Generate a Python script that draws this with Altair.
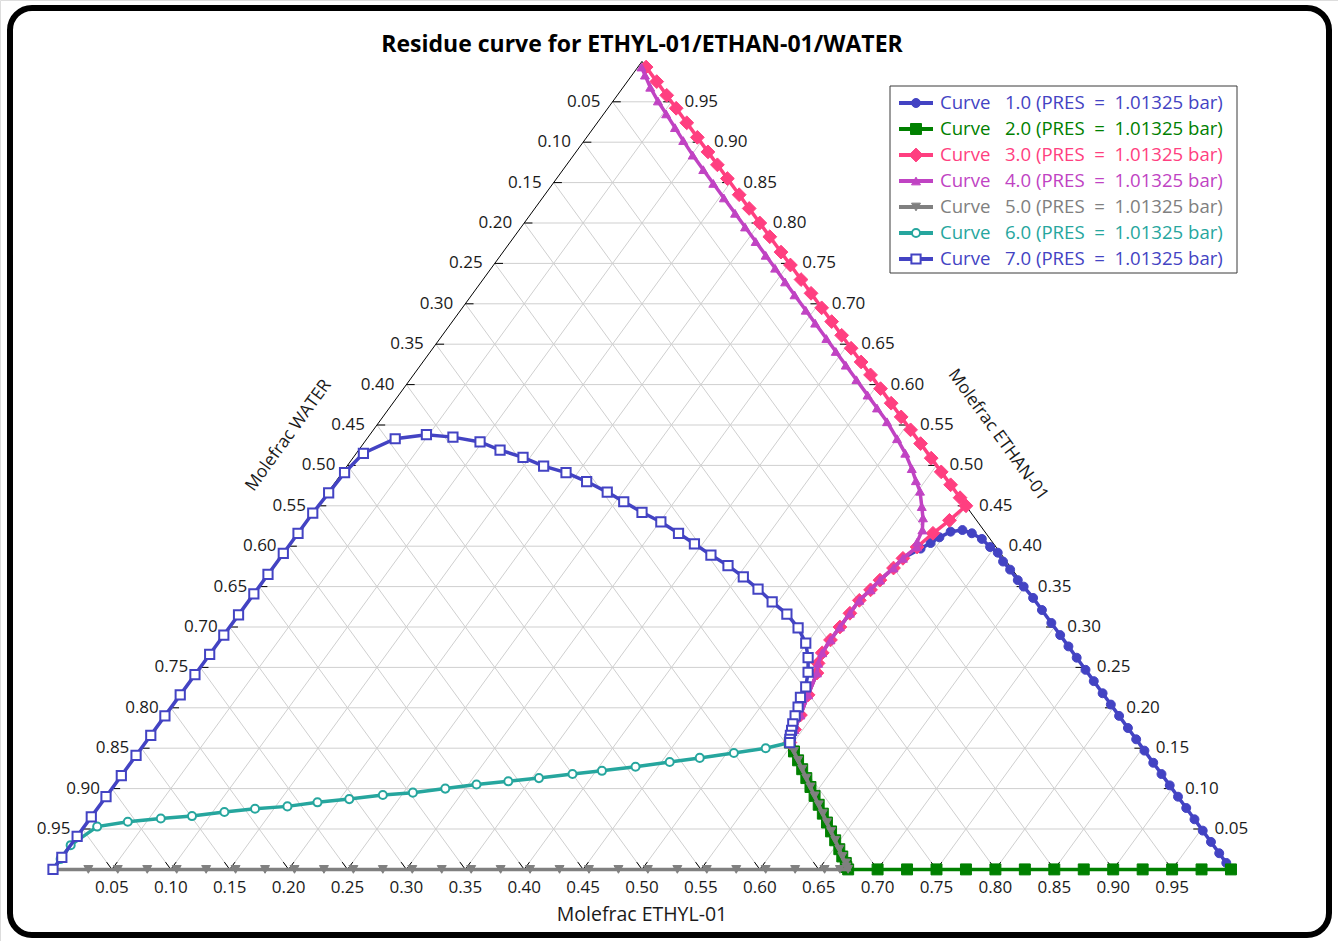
import altair as alt
import pandas as pd

# Tick values shared by the three composition axes
TICKS = [0.05, 0.10, 0.15, 0.20, 0.25, 0.30, 0.35, 0.40, 0.45, 0.50,
         0.55, 0.60, 0.65, 0.70, 0.75, 0.80, 0.85, 0.90, 0.95]

# Residue curves as mole fractions of ETHYL-01 and ETHAN-01 (WATER is the rest)
C1_ETHYL = [0.547, 0.543, 0.539, 0.533, 0.527, 0.522, 0.519, 0.518, 0.518, 0.518,
            0.518, 0.521, 0.523, 0.527, 0.529, 0.538, 0.543, 0.547, 0.553, 0.562,
            0.572, 0.584, 0.596, 0.606, 0.616, 0.627, 0.640, 0.649, 0.664, 0.679,
            0.695, 0.710, 0.724, 0.738, 0.753, 0.767, 0.782, 0.796, 0.810, 0.825,
            0.839, 0.853, 0.868, 0.882, 0.896, 0.910, 0.924, 0.938, 0.952, 0.966,
            0.980, 0.992, 1.000]
C1_ETHANOL = [0.157, 0.173, 0.191, 0.216, 0.243, 0.255, 0.268, 0.284, 0.300, 0.317,
              0.333, 0.346, 0.358, 0.373, 0.385, 0.397, 0.404, 0.411, 0.418, 0.420,
              0.416, 0.409, 0.399, 0.392, 0.381, 0.371, 0.358, 0.350, 0.336, 0.321,
              0.305, 0.290, 0.276, 0.262, 0.247, 0.233, 0.218, 0.204, 0.190, 0.175,
              0.161, 0.147, 0.132, 0.118, 0.104, 0.090, 0.076, 0.062, 0.048, 0.034,
              0.020, 0.008, 0.000]

C2_ETHYL = [0.547, 0.556, 0.565, 0.574, 0.583, 0.592, 0.601, 0.610, 0.619, 0.628,
            0.637, 0.646, 0.655, 0.662, 0.669, 0.672, 0.675, 0.700, 0.725, 0.750,
            0.775, 0.800, 0.825, 0.850, 0.875, 0.900, 0.925, 0.950, 0.975, 1.000]
C2_ETHANOL = [0.157, 0.146, 0.135, 0.124, 0.113, 0.102, 0.091, 0.080, 0.069, 0.058,
              0.047, 0.036, 0.025, 0.016, 0.008, 0.003, 0.000, 0.000, 0.000, 0.000,
              0.000, 0.000, 0.000, 0.000, 0.000, 0.000, 0.000, 0.000, 0.000, 0.000]

C3_ETHYL = [0.547, 0.543, 0.539, 0.533, 0.527, 0.522, 0.519, 0.518, 0.518, 0.518,
            0.518, 0.521, 0.523, 0.527, 0.529, 0.534, 0.539, 0.545, 0.550, 0.540,
            0.524, 0.508, 0.491, 0.473, 0.456, 0.440, 0.423, 0.405, 0.388, 0.372,
            0.355, 0.339, 0.322, 0.305, 0.287, 0.270, 0.252, 0.236, 0.217, 0.200,
            0.182, 0.165, 0.145, 0.128, 0.112, 0.094, 0.076, 0.058, 0.042, 0.025,
            0.007]
C3_ETHANOL = [0.157, 0.173, 0.191, 0.216, 0.243, 0.255, 0.268, 0.284, 0.300, 0.317,
              0.333, 0.346, 0.358, 0.373, 0.385, 0.399, 0.416, 0.432, 0.450, 0.460,
              0.476, 0.492, 0.509, 0.527, 0.544, 0.560, 0.577, 0.595, 0.612, 0.628,
              0.645, 0.661, 0.678, 0.695, 0.713, 0.730, 0.748, 0.764, 0.783, 0.800,
              0.818, 0.835, 0.855, 0.872, 0.888, 0.906, 0.924, 0.942, 0.958, 0.975,
              0.993]

C4_ETHYL = [0.547, 0.543, 0.539, 0.533, 0.527, 0.522, 0.519, 0.518, 0.518, 0.518,
            0.518, 0.521, 0.523, 0.527, 0.529, 0.534, 0.531, 0.528, 0.521, 0.513,
            0.502, 0.492, 0.481, 0.466, 0.450, 0.431, 0.414, 0.398, 0.379, 0.361,
            0.344, 0.328, 0.309, 0.293, 0.274, 0.258, 0.241, 0.225, 0.208, 0.190,
            0.173, 0.154, 0.136, 0.119, 0.101, 0.084, 0.069, 0.053, 0.038, 0.023,
            0.011, 0.003]
C4_ETHANOL = [0.157, 0.173, 0.191, 0.216, 0.243, 0.255, 0.268, 0.284, 0.300, 0.317,
              0.333, 0.346, 0.358, 0.373, 0.385, 0.399, 0.405, 0.420, 0.435, 0.449,
              0.468, 0.481, 0.496, 0.515, 0.533, 0.554, 0.571, 0.587, 0.606, 0.624,
              0.641, 0.657, 0.676, 0.692, 0.711, 0.727, 0.744, 0.760, 0.777, 0.795,
              0.812, 0.831, 0.849, 0.866, 0.884, 0.902, 0.918, 0.935, 0.951, 0.968,
              0.983, 0.993]

C5_ETHYL = [0.000, 0.030, 0.055, 0.080, 0.105, 0.130, 0.155, 0.180, 0.205, 0.230,
            0.255, 0.280, 0.305, 0.330, 0.355, 0.380, 0.405, 0.430, 0.455, 0.480,
            0.505, 0.530, 0.555, 0.580, 0.605, 0.630, 0.655, 0.668, 0.675, 0.672,
            0.669, 0.662, 0.655, 0.646, 0.637, 0.628, 0.619, 0.610, 0.601, 0.592,
            0.583, 0.574, 0.565, 0.556, 0.547]
C5_ETHANOL = [0.000, 0.000, 0.000, 0.000, 0.000, 0.000, 0.000, 0.000, 0.000, 0.000,
              0.000, 0.000, 0.000, 0.000, 0.000, 0.000, 0.000, 0.000, 0.000, 0.000,
              0.000, 0.000, 0.000, 0.000, 0.000, 0.000, 0.000, 0.000, 0.000, 0.003,
              0.008, 0.016, 0.025, 0.036, 0.047, 0.058, 0.069, 0.080, 0.091, 0.102,
              0.113, 0.124, 0.135, 0.146, 0.157]

C6_ETHYL = [0.000, 0.000, 0.000, 0.011, 0.034, 0.060, 0.085, 0.110, 0.134, 0.160,
            0.183, 0.208, 0.234, 0.258, 0.283, 0.307, 0.332, 0.356, 0.382, 0.405,
            0.431, 0.457, 0.480, 0.506, 0.530, 0.547]
C6_ETHANOL = [0.000, 0.013, 0.030, 0.053, 0.059, 0.063, 0.066, 0.071, 0.075, 0.078,
              0.083, 0.087, 0.092, 0.095, 0.100, 0.105, 0.109, 0.113, 0.118, 0.122,
              0.127, 0.133, 0.138, 0.144, 0.150, 0.157]

C7_ETHYL = [0.000, 0.000, 0.000, 0.000, 0.000, 0.000, 0.000, 0.000, 0.000, 0.000,
            0.000, 0.000, 0.000, 0.000, 0.000, 0.000, 0.000, 0.000, 0.000, 0.001,
            0.002, 0.006, 0.024, 0.048, 0.072, 0.098, 0.120, 0.144, 0.167, 0.190,
            0.213, 0.237, 0.257, 0.279, 0.301, 0.323, 0.343, 0.364, 0.385, 0.405,
            0.425, 0.445, 0.465, 0.483, 0.499, 0.510, 0.519, 0.526, 0.528, 0.532,
            0.535, 0.538, 0.541, 0.543, 0.545, 0.547]
C7_ETHANOL = [0.000, 0.015, 0.041, 0.065, 0.090, 0.116, 0.141, 0.166, 0.190, 0.216,
              0.241, 0.266, 0.290, 0.315, 0.341, 0.365, 0.391, 0.416, 0.441, 0.466,
              0.491, 0.515, 0.533, 0.538, 0.535, 0.529, 0.519, 0.510, 0.499, 0.491,
              0.480, 0.467, 0.455, 0.442, 0.430, 0.416, 0.403, 0.389, 0.376, 0.362,
              0.347, 0.331, 0.316, 0.299, 0.280, 0.262, 0.244, 0.226, 0.213, 0.201,
              0.190, 0.180, 0.172, 0.166, 0.161, 0.157]

CURVE_IDS = ["1.0", "2.0", "3.0", "4.0", "5.0", "6.0", "7.0"]
CURVE_DATA = [(C1_ETHYL, C1_ETHANOL), (C2_ETHYL, C2_ETHANOL), (C3_ETHYL, C3_ETHANOL),
              (C4_ETHYL, C4_ETHANOL), (C5_ETHYL, C5_ETHANOL), (C6_ETHYL, C6_ETHANOL),
              (C7_ETHYL, C7_ETHANOL)]
CURVE_COLORS = ["#4343C3", "#008000", "#FF3F80", "#C043C3", "#808080", "#26A69E", "#4343C3"]
CURVE_SHAPES = ["circle", "square", "diamond", "triangle-up", "triangle-down", "circle", "square"]
CURVE_OPEN = [False, False, False, False, False, True, True]
CURVE_SIZES = [80, 120, 190, 80, 80, 65, 85]

TITLE = "Residue curve for ETHYL-01/ETHAN-01/WATER"
FONT = "Open Sans"
NB = "\u00a0"

# ---- tables -------------------------------------------------------------
rows = []
for cid, (ethyl, ethanol) in zip(CURVE_IDS, CURVE_DATA):
    for i, (a, b) in enumerate(zip(ethyl, ethanol)):
        rows.append({"curve": cid, "i": i, "ethyl": a, "ethanol": b})
curves_df = pd.DataFrame(rows)

# grid: lines of constant ethanol, constant ethyl and constant water
grid = []
for k in TICKS:
    grid.append({"a1": 0.0, "b1": k, "a2": 1 - k, "b2": k})
    grid.append({"a1": k, "b1": 0.0, "a2": k, "b2": 1 - k})
    grid.append({"a1": 1 - k, "b1": 0.0, "a2": 0.0, "b2": 1 - k})
grid_df = pd.DataFrame(grid)

edges_df = pd.DataFrame([
    {"a1": 0.0, "b1": 0.0, "a2": 1.0, "b2": 0.0},
    {"a1": 1.0, "b1": 0.0, "a2": 0.0, "b2": 1.0},
    {"a1": 0.0, "b1": 1.0, "a2": 0.0, "b2": 0.0},
])

TICK_LEN = 0.007   # horizontal tick length (projected x units)
TICK_RISE = 0.009  # bottom tick rise (ethanol units)
ticks = []
for k in TICKS:
    # left (water) axis: horizontal tick pointing inward
    ticks.append({"x1": k / 2, "y1": k, "x2": k / 2 + TICK_LEN, "y2": k})
    # right (ethanol) axis
    ticks.append({"x1": 1 - k / 2, "y1": k, "x2": 1 - k / 2 - TICK_LEN, "y2": k})
    # bottom (ethyl) axis: short V along both grid directions
    ticks.append({"x1": k, "y1": 0.0, "x2": k + TICK_RISE / 2, "y2": TICK_RISE})
    ticks.append({"x1": k, "y1": 0.0, "x2": k - TICK_RISE / 2, "y2": TICK_RISE})
ticks_df = pd.DataFrame(ticks)

bottom_lab = pd.DataFrame({"tx": TICKS, "ty": [0.0] * len(TICKS),
                           "label": [f"{k:.2f}" for k in TICKS]})
left_lab = pd.DataFrame({"tx": [(1 - k) / 2 for k in TICKS], "ty": [1 - k for k in TICKS],
                         "label": [f"{k:.2f}" for k in TICKS]})
right_lab = pd.DataFrame({"tx": [1 - k / 2 for k in TICKS], "ty": TICKS,
                          "label": [f"{k:.2f}" for k in TICKS]})

axis_titles = pd.DataFrame([
    {"tx": 0.500, "ty": -0.0565, "angle": 0, "size": 19.5, "label": "Molefrac ETHYL-01"},
    {"tx": 0.2000, "ty": 0.5370, "angle": 306, "size": 17.4, "label": "Molefrac WATER"},
    {"tx": 0.8022, "ty": 0.5376, "angle": 54, "size": 17.4, "label": "Molefrac ETHAN-01"},
])

legend_df = pd.DataFrame({
    "r": list(range(len(CURVE_IDS))),
    "label": [f"Curve{NB}{NB}{NB}{c}{NB}(PRES{NB}{NB}={NB}{NB}1.01325{NB}bar)"
              for c in CURVE_IDS],
    "color": CURVE_COLORS,
    "shape": CURVE_SHAPES,
    "fill": ["white" if o else c for o, c in zip(CURVE_OPEN, CURVE_COLORS)],
    "sw": [2 if o else 1 for o in CURVE_OPEN],
    "size": CURVE_SIZES,
})

# ---- scales ---------------------------------------------------------------
XS = alt.Scale(domain=[-0.04499, 1.09083], nice=False, zero=False)
YS = alt.Scale(domain=[-0.08861, 1.07599], nice=False, zero=False)
LEG_Y = alt.Scale(domain=[0, 6], range=[103, 259], nice=False, zero=False)

X = lambda f: alt.X(f, scale=XS, axis=None)
Y = lambda f: alt.Y(f, scale=YS, axis=None)

layers = []

# frame around the figure
layers.append(
    alt.Chart(pd.DataFrame({"k": [0]})).mark_rect(
        filled=False, stroke="black", strokeWidth=6, cornerRadius=22
    ).encode(x=alt.value(10), x2=alt.value(1329), y=alt.value(8), y2=alt.value(935))
)

seg = lambda df: alt.Chart(df).transform_calculate(
    x1="datum.a1 + datum.b1 / 2", x2="datum.a2 + datum.b2 / 2")

layers.append(seg(grid_df).mark_rule(color="#CFCFCF", strokeWidth=1).encode(
    x=X("x1:Q"), y=Y("b1:Q"), x2="x2:Q", y2="b2:Q"))
layers.append(seg(edges_df).mark_rule(color="black", strokeWidth=1).encode(
    x=X("x1:Q"), y=Y("b1:Q"), x2="x2:Q", y2="b2:Q"))
layers.append(alt.Chart(ticks_df).mark_rule(color="black", strokeWidth=1).encode(
    x=X("x1:Q"), y=Y("y1:Q"), x2="x2:Q", y2="y2:Q"))

# residue curves
for cid, color, shape, is_open, size in zip(CURVE_IDS, CURVE_COLORS, CURVE_SHAPES,
                                            CURVE_OPEN, CURVE_SIZES):
    base = alt.Chart(curves_df).transform_filter(
        alt.datum.curve == cid
    ).transform_calculate(tx="datum.ethyl + datum.ethanol / 2")
    enc = dict(x=X("tx:Q"), y=Y("ethanol:Q"))
    layers.append(base.mark_line(color=color, strokeWidth=3.5).encode(order="i:Q", **enc))
    layers.append(base.mark_point(
        shape=shape, filled=True, fill="white" if is_open else color, stroke=color,
        strokeWidth=2 if is_open else 1, size=size, opacity=1
    ).encode(**enc))

# axis tick labels
lab_style = dict(font=FONT, fontSize=17, color="#1A1A1A", baseline="middle")
layers.append(alt.Chart(bottom_lab).mark_text(align="center", dy=19, **lab_style).encode(
    x=X("tx:Q"), y=Y("ty:Q"), text="label:N"))
layers.append(alt.Chart(left_lab).mark_text(align="right", dx=-12, **lab_style).encode(
    x=X("tx:Q"), y=Y("ty:Q"), text="label:N"))
layers.append(alt.Chart(right_lab).mark_text(align="left", dx=13, **lab_style).encode(
    x=X("tx:Q"), y=Y("ty:Q"), text="label:N"))

# axis titles
layers.append(alt.Chart(axis_titles).mark_text(
    font=FONT, color="#1A1A1A", align="center", baseline="middle"
).encode(x=X("tx:Q"), y=Y("ty:Q"), text="label:N",
         angle=alt.Angle("angle:Q", scale=None), size=alt.Size("size:Q", scale=None)))

# chart title
layers.append(alt.Chart(pd.DataFrame({"t": [TITLE]})).mark_text(
    font=FONT, fontSize=23, fontWeight="bold", color="black", align="center",
    baseline="middle"
).encode(x=alt.value(642), y=alt.value(45), text="t:N"))

# legend
layers.append(alt.Chart(pd.DataFrame({"k": [0]})).mark_rect(
    fill="white", stroke="#3A3A3A", strokeWidth=1
).encode(x=alt.value(890), x2=alt.value(1237), y=alt.value(86), y2=alt.value(273)))
leg = alt.Chart(legend_df)
layers.append(leg.mark_rule(strokeWidth=4).encode(
    x=alt.value(899), x2=alt.value(933), y=alt.Y("r:Q", scale=LEG_Y, axis=None),
    color=alt.Color("color:N", scale=None)))
layers.append(leg.mark_point(filled=True, opacity=1).encode(
    x=alt.value(916), y=alt.Y("r:Q", scale=LEG_Y, axis=None),
    shape=alt.Shape("shape:N", scale=None), fill=alt.Fill("fill:N", scale=None),
    stroke=alt.Stroke("color:N", scale=None),
    strokeWidth=alt.StrokeWidth("sw:Q", scale=None),
    size=alt.Size("size:Q", scale=None)))
layers.append(leg.mark_text(font=FONT, fontSize=18.6, align="left", baseline="middle").encode(
    x=alt.value(940), y=alt.Y("r:Q", scale=LEG_Y, axis=None), text="label:N",
    color=alt.Color("color:N", scale=None)))

chart = alt.layer(*layers).resolve_scale(y="independent").properties(
    width=1338, height=941, padding=0, autosize=alt.AutoSizeParams(type="none")
).configure_view(stroke="transparent").configure(background="white")

chart.save("out.html", embed_options={"renderer": "svg", "actions": False})
